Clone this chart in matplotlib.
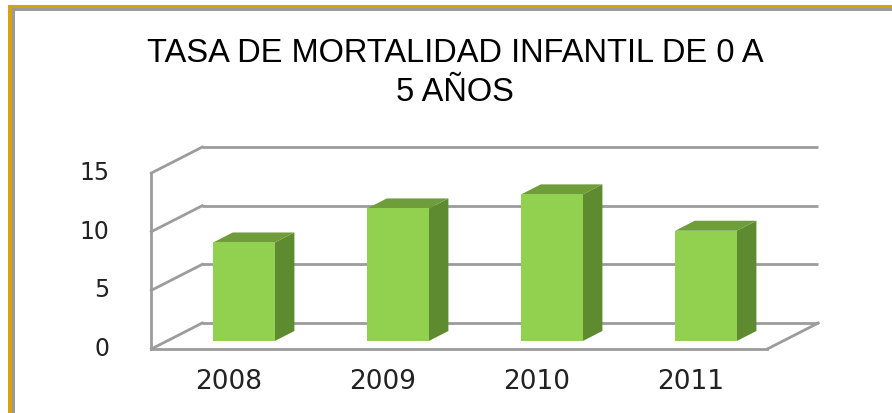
import matplotlib
matplotlib.use("Agg")
import matplotlib.pyplot as plt
from matplotlib.patches import Polygon, Rectangle

# ---- data ----
years = ["2008", "2009", "2010", "2011"]
values = [8.4, 11.3, 12.5, 9.4]
yticks = [0, 5, 10, 15]
title = "TASA DE MORTALIDAD INFANTIL DE 0 A\n5 AÑOS"

# ---- style ----
FRONT = "#92D050"
SIDE = "#5E8A30"
TOP = "#6E9D3A"
GRID = "#9C9C9C"
GOLD = "#D9A010"
BGRAY = "#9A9A9A"

W, H = 892, 413
fig = plt.figure(figsize=(W / 100, H / 100), dpi=100)
fig.patch.set_facecolor("white")

# pixel layout of the oblique projection
px_per_cat = 154.0
px_per_unit = 11.73
x0_px = 228.3      # x pixel of category 0 on front plane
y0_px = 349.0      # image-row of value 0 on front plane
depth_dx_px, depth_dy_px = 51.0, 26.0

ax = fig.add_axes([0, 0, 1, 1])
ax.set_xlim(-x0_px / px_per_cat, (W - x0_px) / px_per_cat)
ax.set_ylim((y0_px - H) / px_per_unit, y0_px / px_per_unit)
ax.axis("off")

kx = depth_dx_px / px_per_cat
kv = depth_dy_px / px_per_unit


def P(x, v, z):
    return (x + z * kx, v + z * kv)


n = len(years)
xl, xr = -0.5, n - 0.5
vmax = max(yticks)

# back wall gridlines and left wall diagonals
for t in yticks:
    a, b = P(xl, t, 1), P(xr, t, 1)
    ax.plot([a[0], b[0]], [a[1], b[1]], color=GRID, lw=2.0, zorder=1,
            solid_capstyle="butt")
    c = P(xl, t, 0)
    ax.plot([c[0], a[0]], [c[1], a[1]], color=GRID, lw=2.0, zorder=1)

# front-left vertical axis
a, b = P(xl, 0, 0), P(xl, vmax, 0)
ax.plot([a[0], b[0]], [a[1], b[1]], color=GRID, lw=2.0, zorder=1)
# floor front edge and right diagonal
a, b = P(xl, 0, 0), P(xr, 0, 0)
ax.plot([a[0], b[0]], [a[1], b[1]], color=GRID, lw=2.0, zorder=1)
c = P(xr, 0, 1)
ax.plot([b[0], c[0]], [b[1], c[1]], color=GRID, lw=2.0, zorder=1)

# bars
bw = 0.4
zf, zb = 8 / 26, 18 / 26
xs = [i + zf * kx for i in range(n)]
ax.bar(xs, values, width=bw, bottom=zf * kv, color=FRONT, edgecolor="none",
       zorder=3)
for i, v in enumerate(values):
    side = [P(i + bw / 2, 0, zf), P(i + bw / 2, 0, zb),
            P(i + bw / 2, v, zb), P(i + bw / 2, v, zf)]
    ax.add_patch(Polygon(side, closed=True, facecolor=SIDE, edgecolor="none",
                         zorder=2))
    top = [P(i - bw / 2, v, zf), P(i + bw / 2, v, zf),
           P(i + bw / 2, v, zb), P(i - bw / 2, v, zb)]
    ax.add_patch(Polygon(top, closed=True, facecolor=TOP, edgecolor="none",
                         zorder=2))

# tick labels
for t in yticks:
    ax.text(xl - 0.27, t, str(t), ha="right", va="center",
            fontsize=17, family="DejaVu Sans", color="#222222")

# category labels
for i, y in enumerate(years):
    ax.text(i, -2.85, y, ha="center", va="center", fontsize=19,
            family="DejaVu Sans", color="#222222")

# title
fig.text(455 / W, 1 - 73 / H, title, ha="center", va="center",
         multialignment="center", fontsize=23.5, family="Liberation Sans",
         linespacing=1.33, color="black")

# frame (gold + gray inner shadow, top and left only visible)
def rect(x, y, w, h, col):
    fig.patches.append(Rectangle((x / W, 1 - (y + h) / H), w / W, h / H,
                                 transform=fig.transFigure, facecolor=col,
                                 edgecolor="none", zorder=10))

rect(12, 8, W - 12, 2.5, BGRAY)
rect(12, 8, 2.5, H - 8, BGRAY)
rect(8, 5, W - 8, 3.2, GOLD)
rect(8, 5, 4, H - 5, GOLD)

fig.savefig("out.png", dpi=100, facecolor="white")
